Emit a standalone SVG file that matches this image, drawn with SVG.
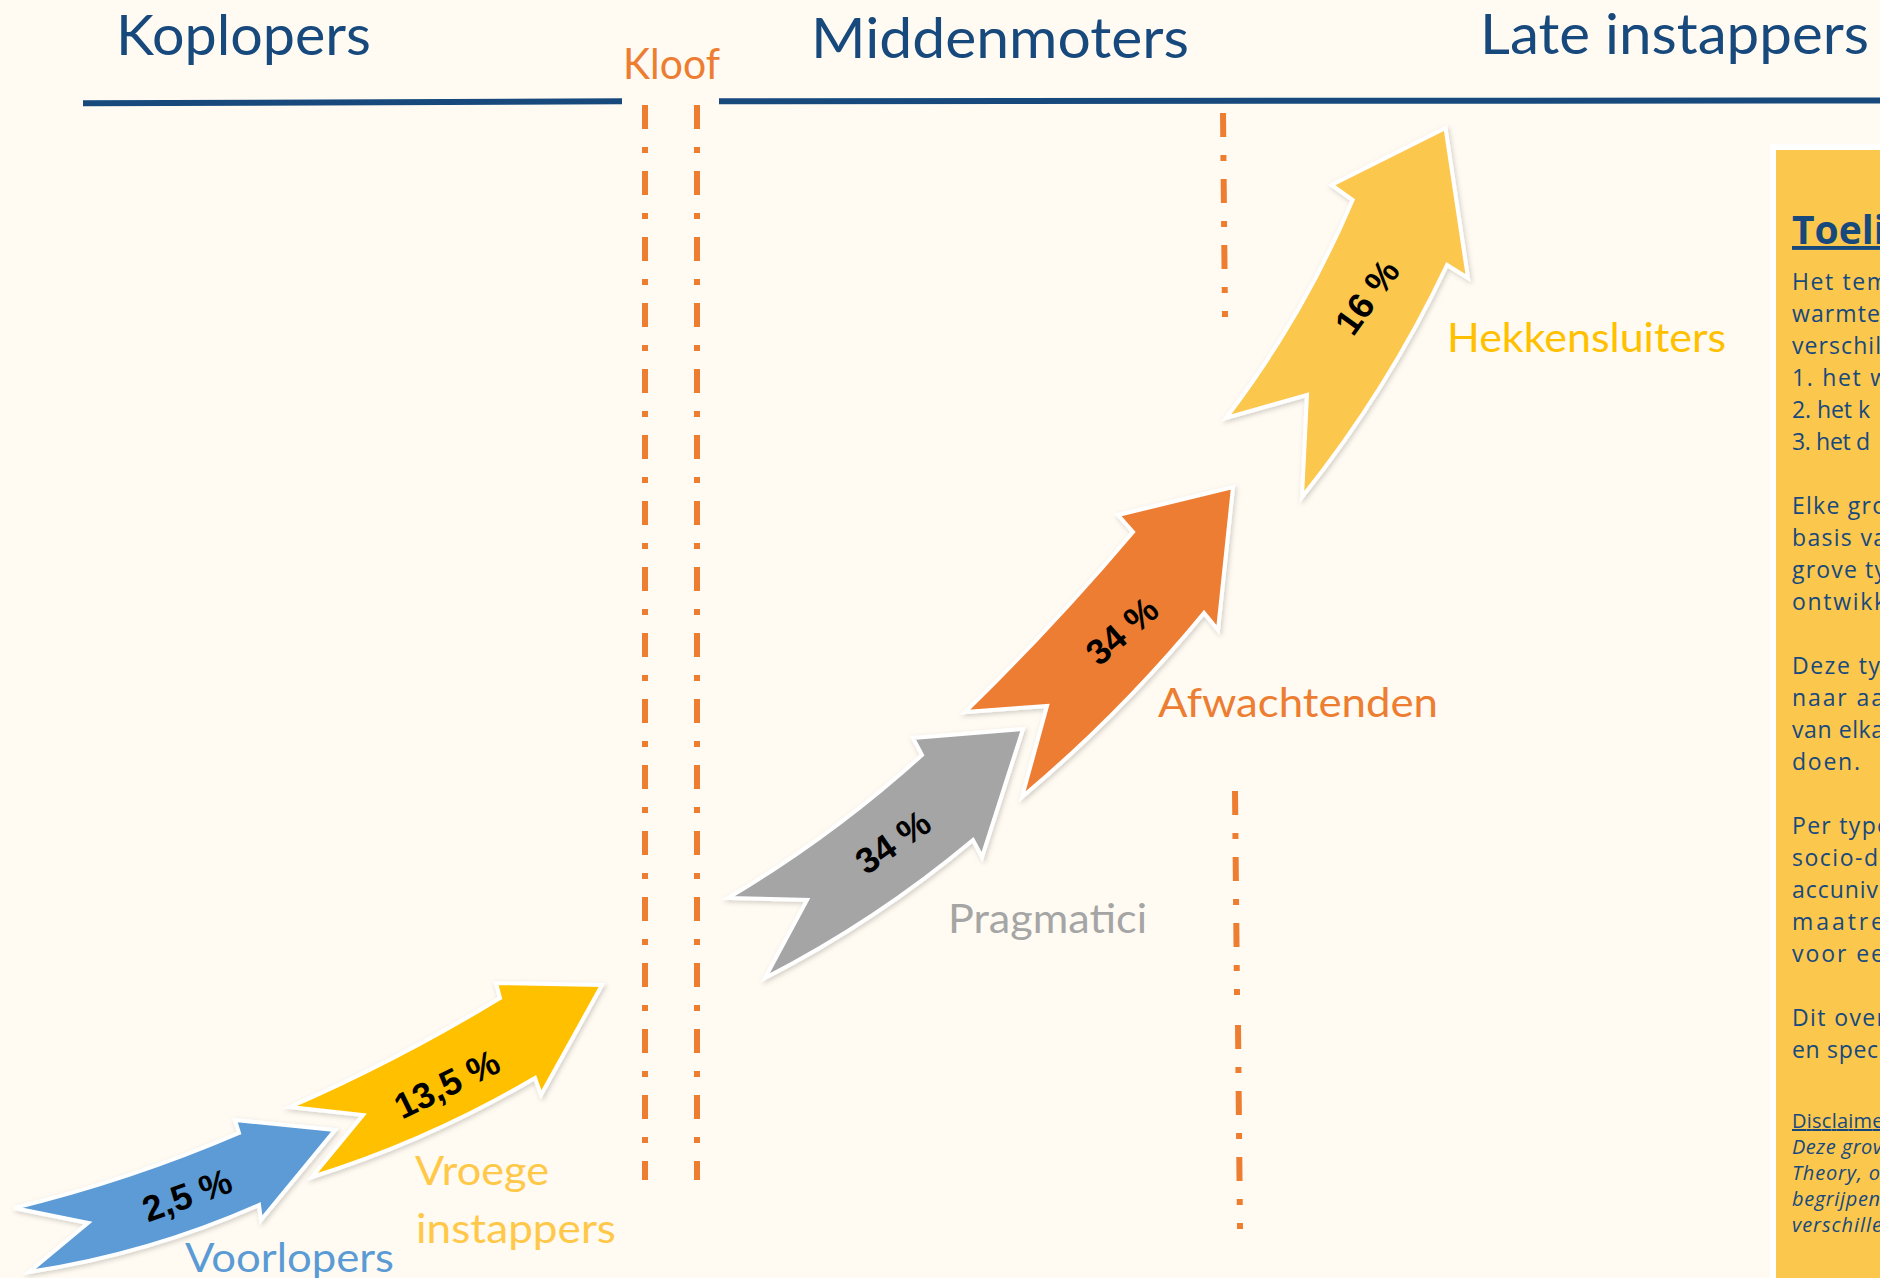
<svg xmlns="http://www.w3.org/2000/svg" width="1880" height="1278" viewBox="0 0 1880 1278">
<defs>
<filter id="sh" x="-15%" y="-15%" width="140%" height="140%"><feDropShadow dx="1.5" dy="2" stdDeviation="2.5" flood-color="#000" flood-opacity="0.18"/></filter>
</defs>
<style>
.hdr{font-family:Lato,"Liberation Sans",sans-serif;fill:#17497D;font-size:57px}
.lbl{font-family:Lato,"Liberation Sans",sans-serif;font-size:40px}
.pct{font-family:"Liberation Sans",Arial,sans-serif;font-weight:bold;font-size:36px;fill:#000;text-anchor:middle;dominant-baseline:central}
.arrow{stroke:#fff;stroke-width:4;stroke-linejoin:miter;filter:url(#sh)}
.dash{stroke:#ED7D31;stroke-width:6;stroke-dasharray:24 18 6 18;fill:none}
.rule{stroke:#17497D;stroke-width:6;fill:none}
.bt{font-family:"Open Sans","Noto Sans",sans-serif;fill:#17497D;font-size:23px}
.bs{font-family:"Open Sans","Noto Sans",sans-serif;fill:#17497D;font-size:20px;font-style:italic}
</style>
<rect x="0" y="0" width="1880" height="1278" fill="#FFFBF2"/>

<g id="separators">
<line class="rule" x1="83" y1="103.3" x2="622" y2="101.2"/>
<line class="rule" x1="719" y1="101.2" x2="1880" y2="100.5"/>
<line class="dash" x1="645" y1="105" x2="645" y2="1180"/>
<line class="dash" x1="697" y1="105" x2="697" y2="1180"/>
<line class="dash" x1="1223" y1="113" x2="1225" y2="317"/>
<line class="dash" x1="1235" y1="791" x2="1237" y2="995"/>
<line class="dash" x1="1238" y1="1025" x2="1240" y2="1229"/>
</g>

<g id="headers">
<text class="hdr" x="116" y="55" textLength="255" lengthAdjust="spacingAndGlyphs">Koplopers</text>
<text class="hdr" x="811" y="58" textLength="378" lengthAdjust="spacingAndGlyphs">Middenmoters</text>
<text class="hdr" x="1480" y="54" textLength="389" lengthAdjust="spacingAndGlyphs">Late instappers</text>
<text x="623" y="79" textLength="97" lengthAdjust="spacingAndGlyphs" style="font-family:Lato,'Liberation Sans',sans-serif;font-size:42px;fill:#ED7D31">Kloof</text>
</g>

<g id="voorlopers">
<path class="arrow" fill="#5B9BD5" d="M14,1208 Q129.7,1180 239,1133 L235,1120 L335,1130 L261,1220 L259,1205 Q148.5,1253.9 29,1272 L88,1223 Z"/>
<text class="pct" x="187" y="1195" transform="rotate(-20 187 1195)">2,5 %</text>
<text class="lbl" x="185" y="1272" fill="#5B9BD5" textLength="209" lengthAdjust="spacingAndGlyphs">Voorlopers</text>
</g>

<g id="vroege-instappers">
<path class="arrow" fill="#FFC000" d="M290,1107 Q398.7,1059.6 500,998 L496,983 L602,985 L541,1095 L535,1078 Q429.2,1140.3 312,1177 L363,1115 Z"/>
<text class="pct" x="447" y="1084" transform="rotate(-26 447 1084)">13,5 %</text>
<text class="lbl" x="415" y="1185" fill="#FFC848" textLength="134" lengthAdjust="spacingAndGlyphs">Vroege</text>
<text class="lbl" x="416" y="1243" fill="#FFC848" textLength="200" lengthAdjust="spacingAndGlyphs">instappers</text>
</g>

<g id="pragmatici">
<path class="arrow" fill="#A5A5A5" d="M728,898 Q832.1,836.2 922,755 L913,738 L1023,729 L982,857 L973,840 Q876.7,920.7 765,978 L807,900 Z"/>
<text class="pct" x="893" y="842" transform="rotate(-35 893 842)">34 %</text>
<text class="lbl" x="948" y="933" fill="#A5A5A5" textLength="199" lengthAdjust="spacingAndGlyphs">Pragmatici</text>
</g>

<g id="afwachtenden">
<path class="arrow" fill="#ED7D31" d="M965,712 Q1053.4,626.1 1133,532 L1118,515 L1233,487 L1218,630 L1204,613 Q1121.5,713.4 1022,797 L1047,706 Z"/>
<text class="pct" x="1122" y="631" transform="rotate(-41 1122 631)">34 %</text>
<text class="lbl" x="1158" y="717" fill="#ED7D31" textLength="280" lengthAdjust="spacingAndGlyphs">Afwachtenden</text>
</g>

<g id="hekkensluiters">
<path class="arrow" fill="#FBC74D" d="M1226,418 Q1303.1,317 1352.6,200 L1331.5,185 L1445.5,128 L1468,278 L1447,265 Q1388.1,389.5 1302,497 L1307,395 Z"/>
<text class="pct" x="1367" y="297" transform="rotate(-54 1367 297)">16 %</text>
<text class="lbl" x="1447" y="352" fill="#FFC000" textLength="279" lengthAdjust="spacingAndGlyphs">Hekkensluiters</text>
</g>

<g id="toelichting">
<rect x="1770" y="144" width="120" height="1140" fill="#FFFFFF"/>
<rect x="1776" y="150" width="110" height="1140" fill="#FBC74D"/>
<text x="1792" y="244" style="font-family:'Open Sans','Noto Sans',sans-serif;font-weight:bold;font-size:39px;fill:#17497D;text-decoration:underline">Toeli</text>
<text class="bt" x="1792" y="290" textLength="96">Het tem</text>
<text class="bt" x="1792" y="322" textLength="88">warmte</text>
<text class="bt" x="1792" y="354" textLength="89">verschil</text>
<text class="bt" x="1792" y="386" textLength="96">1. het w</text>
<text class="bt" x="1792" y="418" textLength="78">2. het k</text>
<text class="bt" x="1792" y="450" textLength="78">3. het d</text>
<text class="bt" x="1792" y="514" textLength="94">Elke gro</text>
<text class="bt" x="1792" y="546" textLength="94">basis va</text>
<text class="bt" x="1792" y="578" textLength="94">grove ty</text>
<text class="bt" x="1792" y="610" textLength="94">ontwikk</text>
<text class="bt" x="1792" y="674" textLength="88">Deze ty</text>
<text class="bt" x="1792" y="706" textLength="92">naar aa</text>
<text class="bt" x="1792" y="738" textLength="92">van elka</text>
<text class="bt" x="1792" y="770" textLength="68">doen.</text>
<text class="bt" x="1792" y="834" textLength="98">Per type</text>
<text class="bt" x="1792" y="866" textLength="86">socio-d</text>
<text class="bt" x="1792" y="898" textLength="86">accuniv</text>
<text class="bt" x="1792" y="930" textLength="92">maatre</text>
<text class="bt" x="1792" y="962" textLength="92">voor ee</text>
<text class="bt" x="1792" y="1026" textLength="94">Dit over</text>
<text class="bt" x="1792" y="1058" textLength="86">en spec</text>
<text x="1792" y="1128" textLength="100" style="font-family:'Open Sans','Noto Sans',sans-serif;font-size:20px;fill:#17497D;text-decoration:underline">Disclaimer</text>
<text class="bs" x="1792" y="1154" textLength="90">Deze grov</text>
<text class="bs" x="1792" y="1180" textLength="88">Theory, o</text>
<text class="bs" x="1792" y="1206" textLength="88">begrijpen</text>
<text class="bs" x="1792" y="1232" textLength="90">verschille</text>
</g>
</svg>
